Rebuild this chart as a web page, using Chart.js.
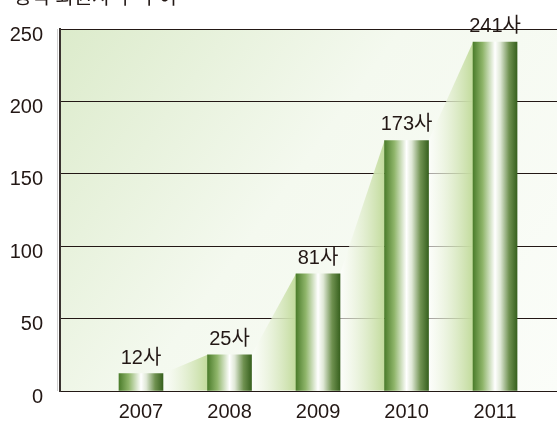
<!DOCTYPE html>
<html>
<head>
<meta charset="utf-8">
<script src="https://cdn.jsdelivr.net/npm/chart.js@4"></script>
<style>
  html, body { margin: 0; padding: 0; background: #fff; }
  #wrap { width: 557px; height: 421px; }
</style>
</head>
<body>
<div id="wrap"><canvas id="members"></canvas></div>
<script>
const years = ["2007", "2008", "2009", "2010", "2011"];
const counts = [12, 25, 81, 173, 241];
const yTicks = [0, 50, 100, 150, 200, 250];
const unit = "사";
const heading = "정식 회원사 수 추이";

const FONT = "'Liberation Sans', Arial, 'Noto Sans CJK KR', sans-serif";
const INK = "#231815";
const BAR_W = 44;

// background wash + light green "slopes" between bars
const backdrop = {
  id: "backdrop",
  beforeDraw(chart) {
    const { ctx, chartArea: a } = chart;
    const g = ctx.createLinearGradient(a.left, a.top, a.right, a.bottom);
    g.addColorStop(0, "#dcebcb");
    g.addColorStop(0.45, "#f4f9ef");
    g.addColorStop(1, "#fbfdf9");
    ctx.save();
    ctx.fillStyle = g;
    ctx.fillRect(a.left, a.top, a.right - a.left, a.bottom - a.top);
    // faint grey shadow beside the left axis
    ctx.fillStyle = "#cfcfcf";
    ctx.fillRect(a.left - 3, a.top, 1, a.bottom - a.top);
    ctx.restore();
  },
  beforeDatasetsDraw(chart) {
    const { ctx } = chart;
    const bars = chart.getDatasetMeta(0).data;
    ctx.save();
    for (let i = 1; i < bars.length; i++) {
      const p = bars[i - 1], q = bars[i];
      const x0 = p.x + p.width / 2, x1 = q.x - q.width / 2;
      const g = ctx.createLinearGradient(x0, 0, x1, 0);
      g.addColorStop(0, "rgba(255,255,255,0.6)");
      g.addColorStop(1, "#c2db9c");
      ctx.fillStyle = g;
      ctx.beginPath();
      ctx.moveTo(x0, p.y);
      ctx.lineTo(x1, q.y);
      ctx.lineTo(x1, p.base);
      ctx.lineTo(x0, p.base);
      ctx.closePath();
      ctx.fill();
    }
    ctx.restore();
  },
  afterDatasetsDraw(chart) {
    const { ctx } = chart;
    const bars = chart.getDatasetMeta(0).data;
    ctx.save();
    ctx.font = "20px " + FONT;
    ctx.fillStyle = INK;
    ctx.textAlign = "center";
    ctx.textBaseline = "alphabetic";
    bars.forEach((b, i) => {
      ctx.fillText(counts[i] + unit, b.x, b.y - 10);
    });
    // cropped heading at the very top
    ctx.textAlign = "left";
    ctx.fillText(heading, 13, 4);
    ctx.restore();
  }
};

const ctx = document.getElementById("members");

new Chart(ctx, {
  type: "bar",
  data: {
    datasets: [{
      data: counts.map((v, i) => ({ x: i, y: v })),
      barThickness: BAR_W,
      backgroundColor: (c) => {
        const chart = c.chart;
        const xs = chart.scales && chart.scales.x;
        if (!chart.chartArea || !xs || c.dataIndex === undefined) return "#6a9a45";
        const cx = xs.getPixelForValue(c.dataIndex);
        const l = cx - BAR_W / 2, r = cx + BAR_W / 2;
        const g = chart.ctx.createLinearGradient(l, 0, r, 0);
        g.addColorStop(0, "#4c7d2c");
        g.addColorStop(0.22, "#8fb56a");
        g.addColorStop(0.5, "#ffffff");
        g.addColorStop(0.62, "#dfe8d6");
        g.addColorStop(0.82, "#6f9150");
        g.addColorStop(1, "#38611f");
        return g;
      },
      borderWidth: 0
    }]
  },
  options: {
    responsive: true,
    maintainAspectRatio: false,
    animation: false,
    layout: { padding: { top: 29, right: 0, left: 0, bottom: 0 } },
    plugins: {
      legend: { display: false },
      tooltip: { enabled: false }
    },
    scales: {
      x: {
        type: "linear",
        offset: false,
        min: -0.915,
        max: 4.70,
        afterBuildTicks: (s) => { s.ticks = years.map((_, i) => ({ value: i })); },
        afterFit: (s) => { s.height = 30; },
        grid: { display: false, drawTicks: false },
        border: { display: false },
        ticks: {
          callback: (v) => years[v],
          color: INK,
          font: { size: 20, family: FONT },
          padding: 9,
          maxRotation: 0,
          autoSkip: false
        }
      },
      y: {
        min: 0,
        max: 250,
        afterBuildTicks: (s) => { s.ticks = yTicks.map((v) => ({ value: v })); },
        afterFit: (s) => { s.width = 60; },
        grid: { color: INK, lineWidth: 1, drawTicks: false },
        border: { display: true, color: "#3a3330", width: 2 },
        ticks: {
          color: INK,
          font: { size: 20, family: FONT },
          padding: 17,
          labelOffset: 6
        }
      }
    }
  },
  plugins: [backdrop]
});
</script>
</body>
</html>
